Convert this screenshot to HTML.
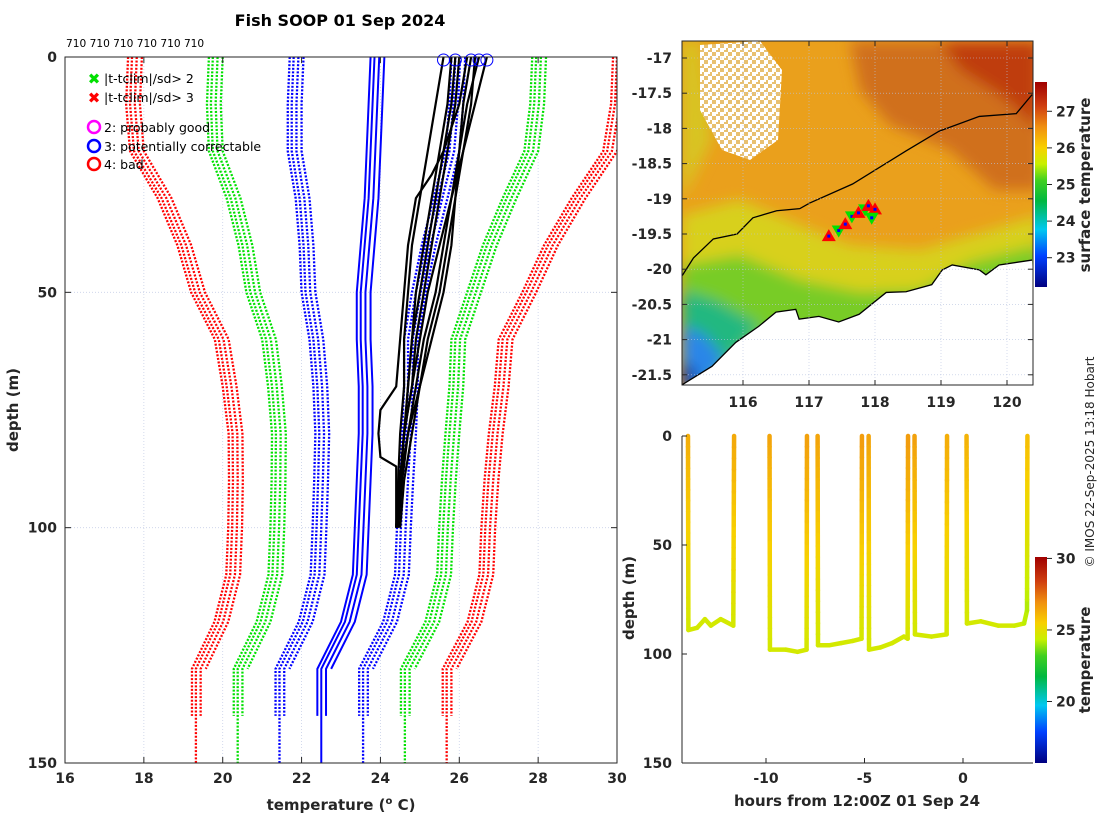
<!DOCTYPE html>
<html><head><meta charset="utf-8"><style>
html,body{margin:0;padding:0;background:#fff;}
svg{display:block;font-family:"DejaVu Sans","Liberation Sans",sans-serif;}
.tk{font-size:14px;font-weight:bold;fill:#262626;}
.lb{font-size:15px;font-weight:bold;fill:#262626;}
</style></head><body>
<svg id="fig" width="1100" height="820" viewBox="0 0 1100 820">
<defs>
<linearGradient id="cmap" x1="0" y1="1" x2="0" y2="0">
<stop offset="0" stop-color="#00007f"/><stop offset="0.15" stop-color="#0040ff"/><stop offset="0.28" stop-color="#00c8f0"/><stop offset="0.42" stop-color="#00b840"/><stop offset="0.52" stop-color="#40d020"/><stop offset="0.6" stop-color="#c8f000"/><stop offset="0.68" stop-color="#f8d000"/><stop offset="0.78" stop-color="#f09010"/><stop offset="0.88" stop-color="#d04010"/><stop offset="1" stop-color="#a00000"/>
</linearGradient>
<pattern id="cloud" width="8" height="8" patternUnits="userSpaceOnUse"><rect width="8" height="8" fill="#e8c070"/><rect width="4" height="4" fill="#fff"/><rect x="4" y="4" width="4" height="4" fill="#fff"/><rect x="4" y="0" width="2" height="2" fill="#fff"/></pattern>
<filter id="blur"><feGaussianBlur stdDeviation="7"/></filter>
<clipPath id="mapclip"><rect x="682" y="41" width="351" height="344"/></clipPath>
<clipPath id="leftclip"><rect x="65" y="57" width="552" height="706"/></clipPath>
<clipPath id="brclip"><rect x="682" y="430" width="351" height="333"/></clipPath>
</defs>

<text x="340" y="26" text-anchor="middle" style="font-size:16px;font-weight:bold">Fish SOOP 01 Sep 2024</text>
<text x="66" y="47" style="font-size:10.6px">710 710 710 710 710 710</text>

<g id="left"></g>
<g id="map"></g>
<g id="br"></g>

<text transform="translate(1094,462) rotate(-90)" text-anchor="middle" style="font-size:12px" fill="#262626">© IMOS 22-Sep-2025 13:18 Hobart</text>
</svg>
<script>
// ---------- LEFT PANEL DATA ----------
const climDepths=[0,10,20,30,40,50,60,70,80,90,100,110,120,130,140,150];
const climMean=[23.85,23.8,23.75,23.7,23.6,23.5,23.5,23.55,23.55,23.5,23.45,23.4,23.1,22.5,22.5,22.5];
const climSd=[2.05,2.05,2.0,1.75,1.55,1.4,1.2,1.15,1.1,1.08,1.07,1.07,1.07,1.06,1.06,1.06];
const climOffsets=[0,0.12,0.25,-0.1];
const climEnds=[150,143,133,140];
const blackDepths=[0,10,20,30,40,50,60,70,80,90,100];
const blackProfiles=[
[25.6,25.4,25.2,25.0,24.8,24.7,24.6,24.6,24.5,24.45,24.4],
[25.8,25.7,25.5,25.3,25.1,24.9,24.8,24.7,24.6,24.5,24.45],
[26.0,25.9,25.7,25.5,25.3,25.1,24.9,24.8,24.6,24.5,24.4],
[26.3,26.1,26.0,25.8,25.6,25.4,25.1,24.9,24.7,24.55,24.45],
[26.5,26.2,26.0,25.9,25.7,25.5,25.2,25.0,24.8,24.6,24.5],
[26.7,26.4,26.1,25.9,25.8,25.6,25.3,25.0,24.7,24.5,24.4],
[26.4,26.3,26.1,25.8,25.5,25.2,25.0,24.8,24.6,24.5,24.4],
[26.2,26.0,25.6,25.4,25.2,25.0,24.8,24.7,24.6,24.5,24.45]];
const oddDepths=[0,10,20,25,30,40,50,60,70,75,80,85,87,100];
const oddTemps=[25.9,25.8,25.6,25.3,24.9,24.7,24.6,24.5,24.4,24.0,23.95,24.0,24.4,24.4];
const flagTemps=[25.6,25.9,26.3,26.5,26.7];
const leftXTicks=[16,18,20,22,24,26,28,30];
const leftYTicks=[0,50,100,150];

// ---------- MAP DATA ----------
const mapLonTicks=[116,117,118,119,120];
const mapLatTicks=[-17,-17.5,-18,-18.5,-19,-19.5,-20,-20.5,-21,-21.5];
const coastLon=[115.08,115.53,115.89,116.24,116.5,116.8,116.85,117.15,117.45,117.76,118.17,118.47,118.86,119.02,119.17,119.58,119.68,119.88,120.38];
const coastLat=[-21.64,-21.38,-21.04,-20.81,-20.61,-20.57,-20.71,-20.67,-20.75,-20.64,-20.33,-20.32,-20.22,-20.01,-19.94,-20.01,-20.08,-19.94,-19.87];
const shelfLon=[115.08,115.25,115.55,115.91,116.15,116.51,116.86,117.01,117.66,118.47,118.97,119.58,120.14,120.38];
const shelfLat=[-20.09,-19.84,-19.57,-19.50,-19.27,-19.17,-19.14,-19.06,-18.79,-18.32,-18.04,-17.83,-17.79,-17.52];
const shipLon=[117.3,117.45,117.55,117.65,117.75,117.85,117.9,118.0,117.95];
const shipLat=[-19.53,-19.45,-19.36,-19.25,-19.2,-19.15,-19.1,-19.15,-19.27];
const shipFlag=[3,2,3,2,3,2,3,3,2];
const mapCbTicks=[23,24,25,26,27];

// ---------- DEPTH-TIME DATA ----------
const dtHours=[-13.96,-13.94,-13.5,-13.1,-12.8,-12.3,-11.66,-11.62,-9.82,-9.80,-9.0,-8.4,-7.94,-7.92,-7.38,-7.36,-6.8,-6.2,-5.6,-5.15,-5.13,-4.79,-4.77,-4.2,-3.6,-3.0,-2.81,-2.79,-2.46,-2.44,-1.6,-0.83,-0.81,0.18,0.2,0.9,1.8,2.6,3.1,3.25,3.27];
const dtDepth=[0,89,88,84,87,84,87,0,0,98,98,99,98,0,0,96,96,95,94,93,0,0,98,97,95,92,93,0,0,91,92,91,0,0,86,85,87,87,86,80,0];
const dtTemp=[26.3,24.6,24.6,24.6,24.6,24.6,24.6,26.4,26.5,24.6,24.6,24.6,24.6,26.6,26.5,24.6,24.6,24.6,24.6,24.6,26.7,26.5,24.6,24.6,24.6,24.6,24.6,26.7,26.6,24.6,24.6,24.6,26.3,26.2,24.6,24.6,24.6,24.6,24.4,24.1,25.9];
const dtXTicks=[-10,-5,0];
const dtYTicks=[0,50,100,150];
const dtCbTicks=[20,25,30];

const NS='http://www.w3.org/2000/svg';
function mk(parent,tag,attrs){const e=document.createElementNS(NS,tag);for(const k in attrs)e.setAttribute(k,attrs[k]);parent.appendChild(e);return e;}
function txt(parent,x,y,s,cls,anchor){const t=mk(parent,'text',{x:x,y:y,'class':cls,'text-anchor':anchor||'middle'});t.textContent=s;return t;}

const cstops=[[0,[0,0,127]],[0.15,[0,64,255]],[0.28,[0,200,240]],[0.42,[0,184,64]],[0.52,[64,208,32]],[0.6,[200,240,0]],[0.68,[248,208,0]],[0.78,[240,144,16]],[0.88,[208,64,16]],[1,[160,0,0]]];
function cmap(f){f=Math.max(0,Math.min(1,f));for(let i=1;i<cstops.length;i++){if(f<=cstops[i][0]){const a=cstops[i-1],b=cstops[i];const u=(f-a[0])/(b[0]-a[0]);const c=a[1].map((v,j)=>Math.round(v+(b[1][j]-v)*u));return 'rgb('+c.join(',')+')';}}return 'rgb(160,0,0)';}

// ===== LEFT PANEL =====
(function(){
const g=document.getElementById('left');
const X0=65,X1=617,Y0=57,Y1=763;
const xs=t=>X0+(t-16)/(30-16)*(X1-X0);
const ys=d=>Y0+d/150*(Y1-Y0);
leftXTicks.forEach(t=>{const l=mk(g,'line',{x1:xs(t),x2:xs(t),y1:Y0,y2:Y1,stroke:'#c8d0e8','stroke-width':0.8,'stroke-dasharray':'1,2'});});
[50,100].forEach(d=>{const l=mk(g,'line',{x1:X0,x2:X1,y1:ys(d),y2:ys(d),stroke:'#c8d0e8','stroke-width':0.8,'stroke-dasharray':'1,2'});});
const clip=mk(g,'g',{'clip-path':'url(#leftclip)'});
const colors={1:'#0000ff',2:'#00e000',3:'#ff0000'};
climOffsets.forEach((off,ci)=>{
  const end=climEnds[ci];
  [1,2,3].forEach(k=>{[-1,1].forEach(s=>{
    const pts=[];climDepths.forEach((d,i)=>{if(d<=end)pts.push(xs(climMean[i]+off+s*k*climSd[i])+','+ys(d));});
    const p=mk(clip,'polyline',{points:pts.join(' '),fill:'none',stroke:colors[k],'stroke-width':2.3,'stroke-dasharray':'2,1.6'});
    
    
  });});
  const pts=[];climDepths.forEach((d,i)=>{if(d<=end)pts.push(xs(climMean[i]+off)+','+ys(d));});
  const m=mk(clip,'polyline',{points:pts.join(' '),fill:'none',stroke:'#0000ff','stroke-width':2});
  
  
});
blackProfiles.forEach(pr=>{
  const pts=pr.map((t,i)=>xs(t)+','+ys(blackDepths[i])).join(' ');
  const p=mk(clip,'polyline',{points:pts,fill:'none',stroke:'#000','stroke-width':2.2});
  
  
});
{const pts=oddTemps.map((t,i)=>xs(t)+','+ys(oddDepths[i])).join(' ');
const p=mk(clip,'polyline',{points:pts,fill:'none',stroke:'#000','stroke-width':2.2});

}
flagTemps.forEach(t=>{const c=mk(g,'circle',{cx:xs(t),cy:Y0+3,r:6,fill:'none',stroke:'#0000ff','stroke-width':1});});
mk(g,'rect',{x:X0,y:Y0,width:X1-X0,height:Y1-Y0,fill:'none',stroke:'#262626','stroke-width':1});
leftXTicks.forEach(t=>{mk(g,'line',{x1:xs(t),x2:xs(t),y1:Y1,y2:Y1-6,stroke:'#262626'});mk(g,'line',{x1:xs(t),x2:xs(t),y1:Y0,y2:Y0+6,stroke:'#262626'});const e=txt(g,xs(t),Y1+20,String(t),'tk');});
leftYTicks.forEach(d=>{mk(g,'line',{x1:X0,x2:X0+6,y1:ys(d),y2:ys(d),stroke:'#262626'});mk(g,'line',{x1:X1,x2:X1-6,y1:ys(d),y2:ys(d),stroke:'#262626'});const e=txt(g,X0-8,ys(d)+5,String(d),'tk','end');});
const xt=mk(g,'text',{x:341,y:810,'class':'lb','text-anchor':'middle'});xt.innerHTML='temperature (<tspan dy="-6" font-size="10">o</tspan><tspan dy="6"> C)</tspan>';

const yt=mk(g,'text',{transform:'translate(18,410) rotate(-90)','class':'lb','text-anchor':'middle'});yt.textContent='depth (m)';

const lg=mk(g,'g',{});
[['#00e000','|t-tclim|/sd> 2',78],['#ff0000','|t-tclim|/sd> 3',97]].forEach(r=>{const e=txt(lg,94,r[2]+6,'\u2716','', 'middle');e.setAttribute('fill',r[0]);e.setAttribute('font-size','15');const t=txt(lg,104,r[2]+5,r[1],'','start');t.setAttribute('font-size','12.5');});
[['#ff00ff','2: probably good',127],['#0000ff','3: potentially correctable',146],['#ff0000','4: bad',164]].forEach(r=>{mk(lg,'circle',{cx:94,cy:r[2],r:6,fill:'none',stroke:r[0],'stroke-width':2.5});const t=txt(lg,104,r[2]+5,r[1],'','start');t.setAttribute('font-size','12.5');});
})();

// ===== MAP =====
(function(){
const g=document.getElementById('map');
const X0=682,X1=1033,Y0=41,Y1=385;
const xs=l=>743+(l-116)*66;
const ys=a=>58+(-17-a)*70.4;
const c=mk(g,'g',{'clip-path':'url(#mapclip)'});
mk(c,'rect',{x:X0,y:Y0,width:X1-X0,height:Y1-Y0,fill:'#eaa01c'});
const fb=mk(c,'g',{filter:'url(#blur)'});
mk(fb,'polygon',{points:'850,41 1040,41 1040,190 995,190 950,150 890,125 860,90',fill:'#d0701a'});
mk(fb,'polygon',{points:'940,41 1040,41 1040,130 1000,95 960,70',fill:'#bf3e10'});
mk(fb,'polygon',{points:'682,41 700,41 712,140 682,200',fill:'#d8c420'});
mk(fb,'polygon',{points:'682,215 740,200 800,225 850,245 920,250 1040,215 1040,390 682,390',fill:'#d8d01c'});
mk(fb,'polygon',{points:'682,265 740,255 800,280 860,292 920,290 970,262 1040,245 1040,390 682,390',fill:'#78cc28'});
mk(fb,'polygon',{points:'682,290 715,300 760,325 705,390 682,390',fill:'#22b880'});
mk(fb,'polygon',{points:'682,325 705,335 725,360 700,390 682,390',fill:'#2a86e8'});
mk(fb,'polygon',{points:'682,362 698,372 690,390 682,390',fill:'#0a2aa8'});
const cl=mk(c,'polygon',{points:'700,45 760,41 782,70 778,140 750,160 722,150 700,110',fill:'url(#cloud)'});

const cpts=coastLon.map((l,i)=>xs(l)+','+ys(coastLat[i]));
const land=mk(c,'polygon',{points:cpts.join(' ')+' 1040,390 682,390',fill:'#fff'});

const coast=mk(c,'polyline',{points:cpts.join(' '),fill:'none',stroke:'#000','stroke-width':1.3});

const shelf=mk(c,'polyline',{points:shelfLon.map((l,i)=>xs(l)+','+ys(shelfLat[i])).join(' '),fill:'none',stroke:'#000','stroke-width':1.3});

mapLonTicks.forEach(l=>{mk(c,'line',{x1:xs(l),x2:xs(l),y1:Y0,y2:Y1,stroke:'#b8c4e0','stroke-width':0.6,'stroke-dasharray':'1,2'});});
mapLatTicks.forEach(a=>{mk(c,'line',{x1:X0,x2:X1,y1:ys(a),y2:ys(a),stroke:'#b8c4e0','stroke-width':0.6,'stroke-dasharray':'1,2'});});
shipLon.forEach((l,i)=>{const x=xs(l),y=ys(shipLat[i]);let m;
 if(shipFlag[i]===3){m=mk(c,'polygon',{points:(x-7)+','+(y+5)+' '+(x+7)+','+(y+5)+' '+x+','+(y-7),fill:'#ff0000'});}
 else{m=mk(c,'polygon',{points:(x-7)+','+(y-5)+' '+(x+7)+','+(y-5)+' '+x+','+(y+7),fill:'#00e000'});}
 
 mk(c,'rect',{x:x-1.5,y:y-1.5,width:3,height:3,fill:'#0000ff'});});
mk(g,'rect',{x:X0,y:Y0,width:X1-X0,height:Y1-Y0,fill:'none',stroke:'#262626'});
mapLonTicks.forEach(l=>{mk(g,'line',{x1:xs(l),x2:xs(l),y1:Y1,y2:Y1-5,stroke:'#262626'});mk(g,'line',{x1:xs(l),x2:xs(l),y1:Y0,y2:Y0+5,stroke:'#262626'});const e=txt(g,xs(l),Y1+22,String(l),'tk');});
mapLatTicks.forEach(a=>{mk(g,'line',{x1:X0,x2:X0+5,y1:ys(a),y2:ys(a),stroke:'#262626'});mk(g,'line',{x1:X1,x2:X1-5,y1:ys(a),y2:ys(a),stroke:'#262626'});const e=txt(g,X0-10,ys(a)+5,String(a),'tk','end');});
const cbT0=22.2,cbT1=27.8,cbY0=287,cbY1=82;
const cy=t=>cbY0-(t-cbT0)/(cbT1-cbT0)*(cbY0-cbY1);
const cb=mk(g,'rect',{x:1035,y:cbY1,width:12,height:cbY0-cbY1,fill:'url(#cmap)'});

mapCbTicks.forEach(t=>{mk(g,'line',{x1:1047,x2:1052,y1:cy(t),y2:cy(t),stroke:'#262626'});const e=txt(g,1056,cy(t)+5,String(t),'tk','start');});
const cl2=mk(g,'text',{transform:'translate(1090,185) rotate(-90)','class':'lb','text-anchor':'middle'});cl2.textContent='surface temperature';

})();

// ===== DEPTH-TIME =====
(function(){
const g=document.getElementById('br');
const X0=682,X1=1033,Y0=436,Y1=763;
const xs=h=>963+h*19.7;
const ys=d=>Y0+d/150*(Y1-Y0);
const T0=15.7,T1=30.1;
const col=t=>cmap((t-T0)/(T1-T0));
const c=mk(g,'g',{'clip-path':'url(#brclip)'});
for(let i=0;i<dtHours.length-1;i++){
  if(dtDepth[i]===0&&dtDepth[i+1]===0)continue;
  const n=Math.max(1,Math.round(Math.abs(dtDepth[i+1]-dtDepth[i])/5));
  for(let k=0;k<n;k++){
    const a=k/n,b=(k+1)/n;
    const x1=xs(dtHours[i]+(dtHours[i+1]-dtHours[i])*a),x2=xs(dtHours[i]+(dtHours[i+1]-dtHours[i])*b);
    const y1=ys(dtDepth[i]+(dtDepth[i+1]-dtDepth[i])*a),y2=ys(dtDepth[i]+(dtDepth[i+1]-dtDepth[i])*b);
    const t=dtTemp[i]+(dtTemp[i+1]-dtTemp[i])*(a+b)/2;
    const s=mk(c,'line',{x1:x1,y1:y1,x2:x2,y2:y2,stroke:col(t),'stroke-width':4.5,'stroke-linecap':'round'});
    
    
  }
}
mk(g,'line',{x1:X0,x2:X0,y1:Y0,y2:Y1,stroke:'#262626'});
mk(g,'line',{x1:X0,x2:X1,y1:Y1,y2:Y1,stroke:'#262626'});
dtXTicks.forEach(h=>{mk(g,'line',{x1:xs(h),x2:xs(h),y1:Y1,y2:Y1-5,stroke:'#262626'});const e=txt(g,xs(h),Y1+20,String(h),'tk');});
dtYTicks.forEach(d=>{mk(g,'line',{x1:X0,x2:X0+5,y1:ys(d),y2:ys(d),stroke:'#262626'});const e=txt(g,X0-10,ys(d)+5,String(d),'tk','end');});
const xt=txt(g,857,806,'hours from 12:00Z 01 Sep 24','lb');
const yt=mk(g,'text',{transform:'translate(634,598) rotate(-90)','class':'lb','text-anchor':'middle'});yt.textContent='depth (m)';

const cbY0=763,cbY1=557;
const cy=t=>cbY0-(t-T0)/(T1-T0)*(cbY0-cbY1);
const cb=mk(g,'rect',{x:1035,y:cbY1,width:12,height:cbY0-cbY1,fill:'url(#cmap)'});

dtCbTicks.forEach(t=>{mk(g,'line',{x1:1047,x2:1052,y1:cy(t),y2:cy(t),stroke:'#262626'});const e=txt(g,1056,cy(t)+5,String(t),'tk','start');});
const ct=mk(g,'text',{transform:'translate(1090,660) rotate(-90)','class':'lb','text-anchor':'middle'});ct.textContent='temperature';

})();
</script>
</body></html>
